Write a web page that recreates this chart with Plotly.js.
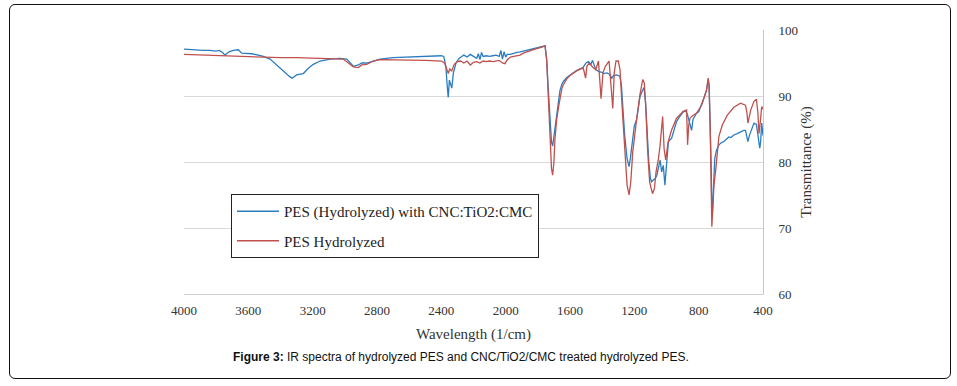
<!DOCTYPE html>
<html>
<head>
<meta charset="utf-8">
<script src="https://cdn.plot.ly/plotly-3.0.1.min.js"></script>
<style>
  html, body { margin: 0; padding: 0; background: #fff; }
  #wrap { position: relative; width: 957px; height: 386px; }
  #chart { width: 957px; height: 386px; }
  #frame { position: absolute; left: 9px; top: 4px; width: 940px; height: 373px;
           border: 1.5px solid #111; border-radius: 6px; pointer-events: none; }
</style>
</head>
<body>
<div id="wrap">
  <div id="chart"></div>
  <div id="frame"></div>
</div>
<script>
// Wavenumber (1/cm) and transmittance (%) for PES (Hydrolyzed) with CNC:TiO2:CMC
const waveTreated = [4000,3960,3920,3880,3840,3800,3780,3760,3745,3720,3693,3662,3641,3610,3579,3538,3507,3465,3424,3383,3341,3327,3300,3258,3227,3196,3154,3092,3030,2988,2968,2947,2916,2895,2864,2823,2781,2700,2600,2500,2400,2385,2372,2365,2357,2350,2340,2335,2325,2309,2290,2280,2260,2240,2220,2200,2180,2170,2160,2150,2140,2120,2100,2080,2060,2040,2030,2020,2010,2000,1990,1970,1950,1930,1910,1890,1870,1850,1830,1810,1790,1770,1755,1745,1735,1725,1715,1708,1700,1690,1683,1670,1662,1650,1641,1620,1600,1580,1558,1540,1517,1500,1486,1470,1460,1440,1420,1400,1390,1370,1355,1340,1330,1310,1290,1280,1270,1260,1245,1233,1225,1210,1200,1186,1165,1150,1140,1130,1120,1110,1100,1093,1080,1070,1060,1050,1040,1030,1020,1010,1000,988,968,950,938,920,896,880,870,858,850,844,835,813,800,782,765,751,741,735,728,722,718,714,708,700,689,674,660,643,630,612,600,581,560,540,520,509,494,485,476,456,441,431,420,415,408,400];
const transTreated = [97.1,97.0,97.0,96.9,96.9,96.8,96.9,96.6,96.2,96.7,96.9,97.0,96.5,96.5,96.4,96.2,96.0,95.6,94.7,93.7,92.9,92.7,93.2,93.4,94.2,94.8,95.3,95.6,95.7,95.6,95.0,94.5,94.7,95.0,95.0,95.3,95.6,95.8,95.9,96.0,96.1,96.0,94.5,92.0,89.8,92.4,91.5,91.2,93.5,95.0,95.7,95.9,96.2,95.9,96.3,96.0,95.7,96.4,95.5,96.6,96.0,96.1,96.0,96.1,96.2,96.0,96.9,95.6,96.7,95.9,96.3,96.3,96.5,96.6,96.7,96.8,96.9,97.0,97.1,97.2,97.3,97.5,97.6,95.5,91.0,86.0,83.0,82.4,84.0,86.0,86.9,89.5,90.9,91.8,92.2,92.8,93.2,93.5,93.9,94.0,94.4,95.0,95.2,94.8,95.4,94.0,93.7,93.6,93.4,93.5,93.3,92.7,93.1,93.2,93.0,91.5,88.0,84.0,80.5,79.3,80.5,84.0,85.5,86.4,89.9,90.8,91.3,89.0,84.0,80.0,77.5,77.0,77.3,77.5,78.0,79.0,80.3,78.5,79.5,76.5,80.0,83.1,83.6,85.0,86.1,86.8,87.6,87.7,87.2,86.1,85.5,84.8,86.5,87.4,87.6,88.6,89.8,90.9,92.5,91.5,86.0,79.0,73.0,72.5,76.0,80.5,81.8,82.6,82.9,83.1,83.4,83.8,83.7,84.1,84.3,84.6,84.8,84.8,83.1,84.0,84.6,85.9,85.7,84.3,82.1,83.0,85.9,84.0];

// Wavenumber (1/cm) and transmittance (%) for PES Hydrolyzed
const waveHydrolyzed = [4000,3900,3800,3700,3600,3500,3400,3300,3200,3100,3011,2978,2947,2916,2895,2864,2823,2781,2700,2600,2500,2400,2380,2365,2357,2348,2335,2320,2300,2280,2260,2240,2220,2200,2180,2160,2140,2120,2100,2080,2060,2040,2020,2004,1990,1970,1950,1930,1911,1890,1870,1850,1818,1790,1770,1755,1745,1735,1725,1715,1708,1700,1694,1683,1670,1662,1650,1641,1620,1600,1580,1558,1540,1517,1503,1495,1480,1460,1440,1423,1407,1395,1380,1357,1334,1325,1314,1300,1289,1275,1260,1245,1233,1222,1210,1200,1186,1165,1148,1138,1128,1118,1105,1087,1075,1065,1050,1040,1024,1015,1005,990,969,938,896,875,869,862,854,844,813,782,751,741,735,728,722,718,712,705,694,674,653,622,581,540,509,500,494,486,476,456,441,432,425,415,408,400];
const transHydrolyzed = [96.3,96.2,96.1,96.0,96.0,95.9,95.8,95.8,95.7,95.7,95.6,95.0,94.4,94.3,94.7,94.8,95.3,95.5,95.5,95.4,95.4,95.3,95.0,94.0,93.4,94.1,93.8,94.8,95.2,95.3,95.0,95.3,94.7,95.1,95.2,95.0,95.3,95.2,95.3,95.2,95.3,95.4,95.0,94.9,95.5,95.9,96.0,96.1,96.2,96.5,96.7,96.9,97.1,97.3,97.5,97.6,95.5,90.0,84.0,79.0,78.0,80.0,83.3,86.4,88.5,89.9,91.2,91.7,92.6,93.1,93.4,93.8,94.1,94.2,92.7,94.5,95.0,94.4,94.0,95.3,89.6,93.5,94.5,95.3,88.1,93.5,95.3,95.3,94.0,88.0,82.0,76.5,75.0,77.0,81.5,84.0,86.4,90.2,92.5,92.0,88.0,82.0,77.0,75.2,76.0,78.5,80.5,82.5,86.9,82.0,80.3,83.0,84.8,86.6,87.7,87.9,82.6,85.5,86.6,86.9,87.4,88.6,90.9,92.7,91.5,85.0,77.0,70.2,73.0,76.5,78.8,83.9,85.6,87.1,88.3,88.9,88.6,87.5,85.9,87.0,87.9,89.2,89.5,87.5,84.3,86.5,88.4,88.0];

const seriesNames = ['PES (Hydrolyzed) with CNC:TiO2:CMC', 'PES Hydrolyzed'];
const xTicks = [4000,3600,3200,2800,2400,2000,1600,1200,800,400];
const yTicks = [60,70,80,90,100];

const serif = 'Liberation Serif, Times New Roman, serif';

const traces = [
  { x: waveTreated, y: transTreated, name: seriesNames[0], type: 'scatter', mode: 'lines',
    legendgroup: 'a', line: { color: '#2b7dc0', width: 1.3 } },
  { x: waveHydrolyzed, y: transHydrolyzed, name: seriesNames[1], type: 'scatter', mode: 'lines',
    legendgroup: 'b', line: { color: '#c0504d', width: 1.3 } }
];

const layout = {
  width: 957, height: 386,
  margin: { l: 184, r: 194, t: 30, b: 92 },
  paper_bgcolor: '#fff', plot_bgcolor: '#fff',
  showlegend: true,
  legend: {
    x: (231 - 184) / 579, y: (294 - 194) / 264, xanchor: 'left', yanchor: 'top',
    bgcolor: '#fff', bordercolor: '#222', borderwidth: 1,
    font: { family: serif, size: 15, color: '#222' },
    traceorder: 'grouped', tracegroupgap: 7,
    itemwidth: 42, entrywidth: 310
  },
  xaxis: {
    range: [4000, 400], tickvals: xTicks, ticktext: xTicks.map(String),
    showgrid: false, zeroline: false, showline: true, linecolor: '#d0d0d0', linewidth: 1,
    ticks: '', ticklabelstandoff: 4, tickfont: { family: serif, size: 13, color: '#333' },
    title: { text: 'Wavelength (1/cm)', font: { family: serif, size: 15, color: '#333' }, standoff: 11 }
  },
  yaxis: {
    side: 'right', range: [60, 100], tickvals: yTicks,
    showgrid: true, gridcolor: '#d9d9d9', zeroline: false,
    showline: true, linecolor: '#c8c8c8', linewidth: 1,
    ticks: '', ticklabelstandoff: 12, tickfont: { family: serif, size: 13, color: '#333' },
    title: { text: 'Transmittance (%)', font: { family: serif, size: 15, color: '#333' }, standoff: 3 }
  },
  annotations: [{
    xref: 'paper', yref: 'paper', x: (461 - 184) / 579, y: (294 - 357) / 264,
    xanchor: 'center', yanchor: 'middle', showarrow: false,
    text: '<b>Figure 3:</b> IR spectra of hydrolyzed PES and CNC/TiO2/CMC treated hydrolyzed PES.',
    font: { family: 'Liberation Sans, Arial, sans-serif', size: 12, color: '#111' }
  }]
};

Plotly.newPlot('chart', traces, layout, { staticPlot: true, displayModeBar: false });
</script>
</body>
</html>
